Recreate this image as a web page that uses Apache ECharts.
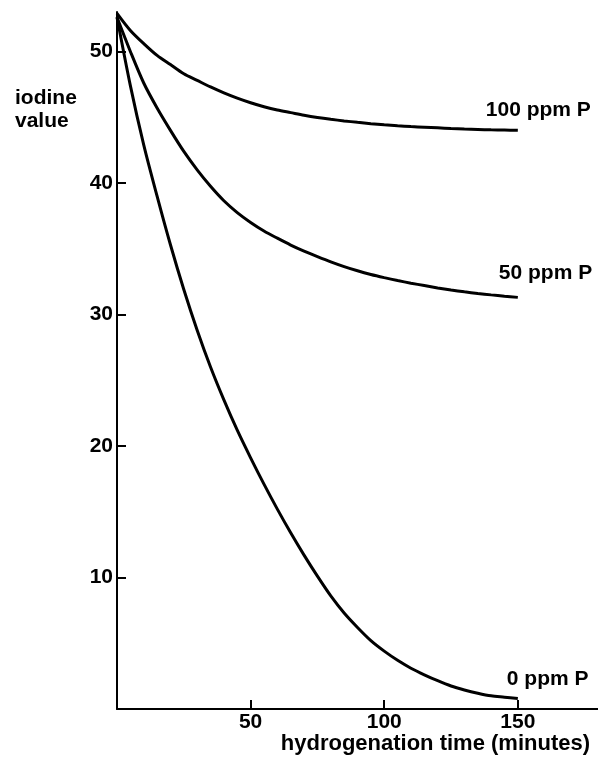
<!DOCTYPE html>
<html>
<head>
<meta charset="utf-8">
<script src="https://cdn.jsdelivr.net/npm/echarts@6/dist/echarts.min.js"></script>
<style>
  html, body { margin: 0; padding: 0; background: #fff; }
  #main { width: 598px; height: 760px; }
</style>
</head>
<body>
<div id="main"></div>
<script>
// hydrogenation time, minutes (every 5 min)
var times = [0, 5, 10, 15, 20, 25, 30, 35, 40, 45, 50, 55, 60, 65, 70, 75,
             80, 85, 90, 95, 100, 105, 110, 115, 120, 125, 130, 135, 140, 145, 150];
// iodine value for each phosphorus level
var p100 = [52.9, 51.6, 50.6, 49.7, 49.0, 48.3, 47.8, 47.3, 46.85, 46.45, 46.1, 45.8, 45.55, 45.35, 45.15, 44.98,
            44.84, 44.72, 44.61, 44.51, 44.42, 44.35, 44.29, 44.24, 44.19, 44.14, 44.1, 44.07, 44.04, 44.02, 44.0];
var p50 = [52.6, 50.0, 47.6, 45.7, 44.0, 42.4, 41.0, 39.75, 38.65, 37.75, 37.0, 36.35, 35.8, 35.28, 34.82, 34.4,
           34.0, 33.64, 33.32, 33.04, 32.8, 32.58, 32.38, 32.2, 32.02, 31.86, 31.72, 31.6, 31.49, 31.39, 31.3];
var p0 = [52.6, 47.4, 42.9, 39.0, 35.3, 31.9, 28.8, 26.0, 23.5, 21.2, 19.1, 17.1, 15.2, 13.4, 11.7, 10.1,
          8.6, 7.3, 6.2, 5.2, 4.4, 3.7, 3.1, 2.6, 2.15, 1.75, 1.45, 1.2, 1.0, 0.9, 0.8];
var seriesNames = ['100 ppm P', '50 ppm P', '0 ppm P'];
var xTicks = [50, 100, 150];
var yTicks = [10, 20, 30, 40, 50];

function pairs(vals) {
    var out = [];
    for (var i = 0; i < times.length; i++) {
        out.push([times[i], vals[i]]);
    }
    return out;
}

var font = 'Liberation Sans';

function curve(name, vals, off) {
    return {
        name: name,
        type: 'line',
        data: pairs(vals),
        smooth: 0.3,
        showSymbol: false,
        lineStyle: { color: '#000', width: 3 },
        endLabel: {
            show: true,
            formatter: '{a}',
            position: 'right',
            distance: 0,
            offset: off,
            color: '#000',
            fontFamily: font,
            fontWeight: 'bold',
            fontSize: 21
        }
    };
}

var myChart = echarts.init(document.getElementById('main'));
myChart.setOption({
    animation: false,
    backgroundColor: '#fff',
    grid: { left: 117, right: 0, top: 12, bottom: 51, containLabel: false, outerBoundsMode: 'none' },
    xAxis: {
        type: 'value',
        min: 0,
        max: 180,
        interval: 50,
        splitLine: { show: false },
        axisLine: { lineStyle: { color: '#000', width: 2 } },
        axisTick: { inside: true, length: 9, customValues: xTicks, lineStyle: { color: '#000', width: 2 } },
        axisLabel: { customValues: xTicks, color: '#000', fontFamily: font, fontWeight: 'bold', fontSize: 21, margin: 3 }
    },
    yAxis: {
        type: 'value',
        min: 0,
        max: 53,
        interval: 10,
        splitLine: { show: false },
        axisLine: { lineStyle: { color: '#000', width: 2 } },
        axisTick: { inside: true, length: 9, customValues: yTicks, lineStyle: { color: '#000', width: 2 } },
        axisLabel: { customValues: yTicks, color: '#000', fontFamily: font, fontWeight: 'bold', fontSize: 21, margin: 4 }
    },
    graphic: [{
        type: 'text',
        left: 15,
        top: 87,
        style: {
            text: 'iodine\nvalue',
            fill: '#000',
            font: 'bold 21px "Liberation Sans"',
            lineHeight: 23
        }
    }, {
        // x axis title, drawn as text so it can sit right-aligned under the ticks
        type: 'text',
        right: 8,
        top: 733,
        style: {
            text: 'hydrogenation time (minutes)',
            fill: '#000',
            font: 'bold 22px "Liberation Sans"'
        }
    }],
    series: [
        curve(seriesNames[0], p100, [-32, -20]),
        curve(seriesNames[1], p50, [-19, -24]),
        curve(seriesNames[2], p0, [-11, -19])
    ]
});
</script>
</body>
</html>
